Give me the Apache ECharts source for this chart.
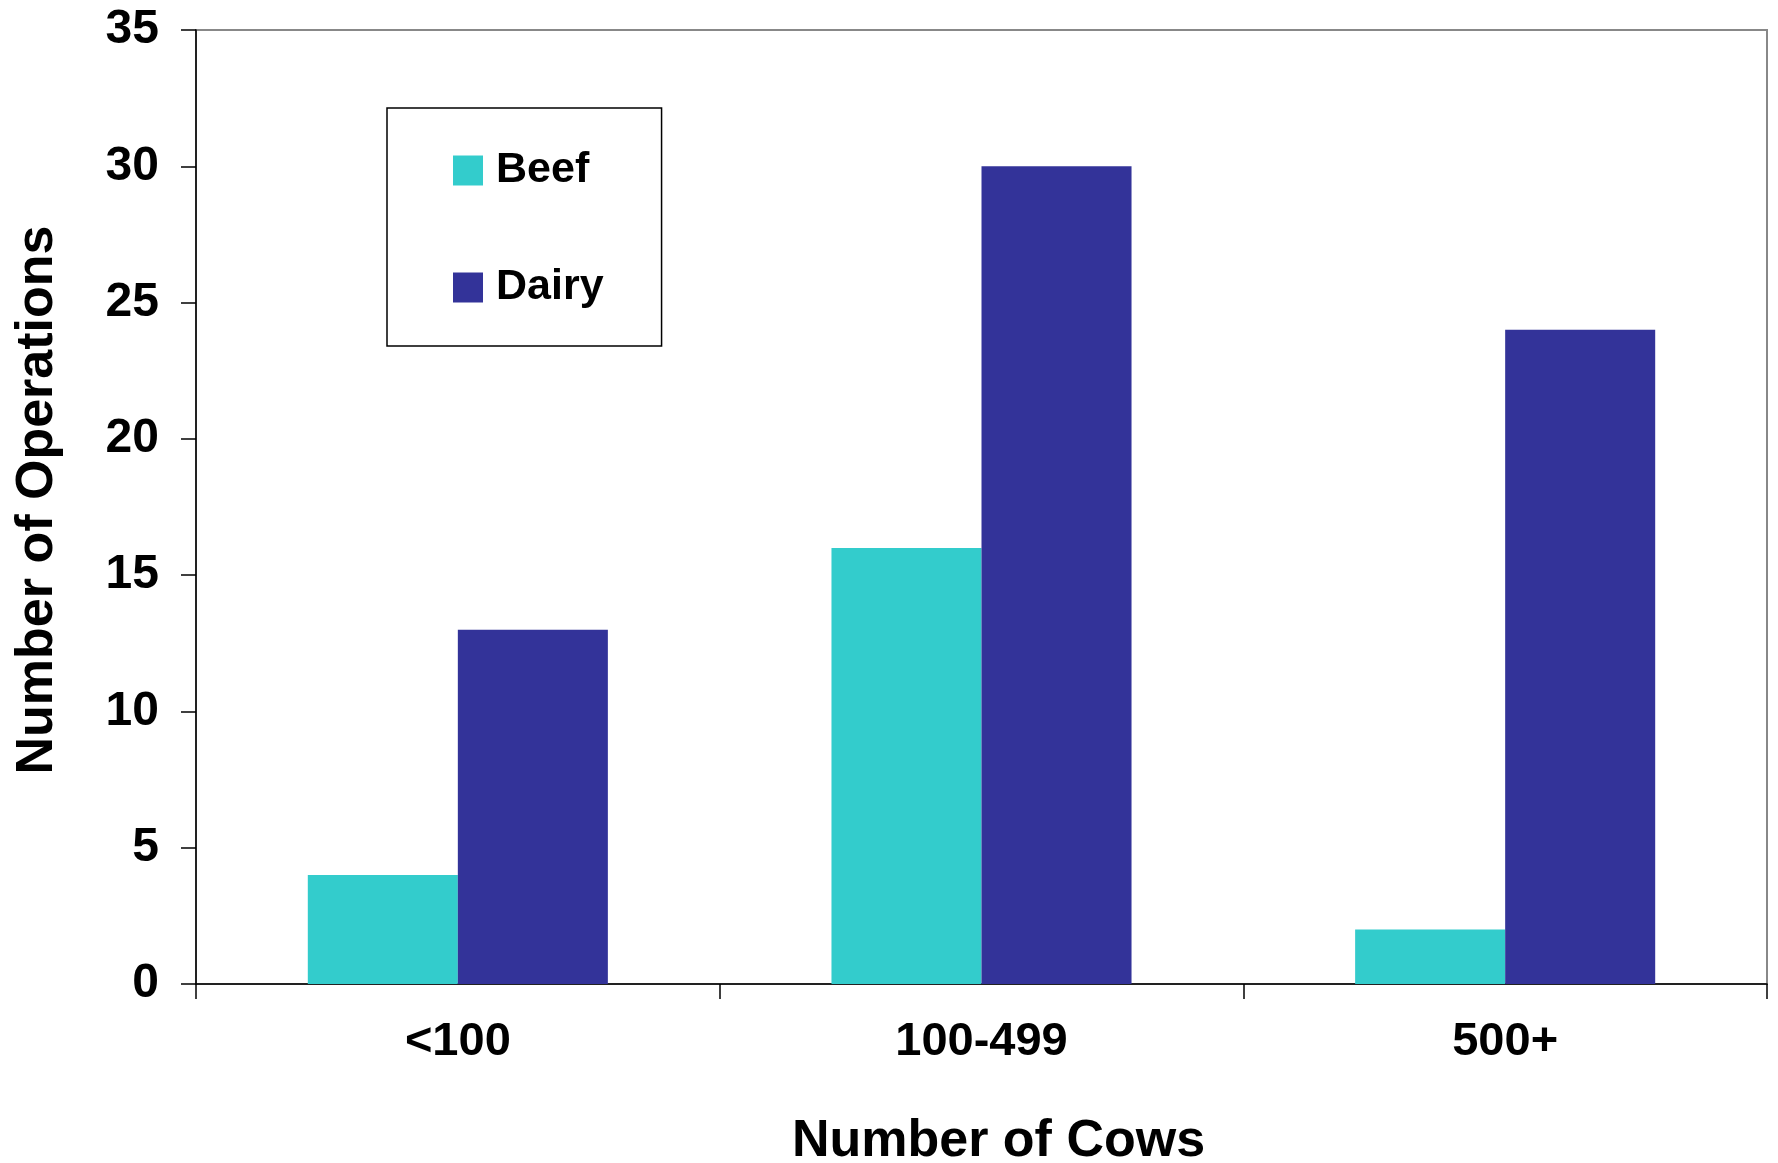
<!DOCTYPE html>
<html>
<head>
<meta charset="utf-8">
<script src="https://cdn.jsdelivr.net/npm/echarts@6/dist/echarts.min.js"></script>
<style>
  html, body { margin: 0; padding: 0; background: #fff; }
  #chart { width: 1778px; height: 1163px; }
</style>
</head>
<body>
<div id="chart"></div>
<script>
// Herd size classes and operation counts per herd type
const herdSizes = ['<100', '100-499', '500+'];
const beefOperations = [4, 16, 2];
const dairyOperations = [13, 30, 24];
const yTicks = { min: 0, max: 35, interval: 5 };

const FONT = '"Liberation Sans", Arial, Helvetica, sans-serif';

const chart = echarts.init(document.getElementById('chart'), null, { renderer: 'canvas' });

chart.setOption({
  animation: false,
  backgroundColor: '#ffffff',
  grid: {
    left: 196,
    right: 11,
    top: 30,
    bottom: 179,
    outerBoundsMode: 'none',
    containLabel: false,
    show: true,
    borderColor: '#888888',
    borderWidth: 2,
    backgroundColor: 'transparent'
  },
  legend: {
    left: 387,
    top: 108,
    orient: 'vertical',
    itemWidth: 30,
    itemHeight: 30,
    itemGap: 74,
    padding: [41, 58, 37, 66],
    borderColor: '#000000',
    borderWidth: 1.5,
    backgroundColor: '#ffffff',
    icon: 'rect',
    textStyle: {
      fontFamily: FONT,
      fontWeight: 'bold',
      fontSize: 43,
      color: '#000000',
      padding: [0, 0, 0, 8]
    },
    data: ['Beef', 'Dairy']
  },
  xAxis: {
    type: 'category',
    data: herdSizes,
    name: 'Number of Cows',
    nameLocation: 'middle',
    nameGap: 132,
    nameTextStyle: {
      fontFamily: FONT,
      fontWeight: 'bold',
      fontSize: 52,
      color: '#000000',
      padding: [0, 0, 0, 34]
    },
    axisLine: { show: true, lineStyle: { color: '#000000', width: 1.5 } },
    axisTick: { show: true, length: 15, inside: false, lineStyle: { color: '#000000', width: 1.5 } },
    axisLabel: {
      margin: 35,
      fontFamily: FONT,
      fontWeight: 'bold',
      fontSize: 47,
      color: '#000000'
    },
    splitLine: { show: false }
  },
  yAxis: {
    type: 'value',
    min: yTicks.min,
    max: yTicks.max,
    interval: yTicks.interval,
    name: 'Number of Operations',
    nameLocation: 'middle',
    nameGap: 132,
    nameTextStyle: {
      fontFamily: FONT,
      fontWeight: 'bold',
      fontSize: 52,
      color: '#000000',
      padding: [0, 0, 0, 14]
    },
    axisLine: { show: true, lineStyle: { color: '#000000', width: 1.5 } },
    axisTick: { show: true, length: 15, inside: false, lineStyle: { color: '#000000', width: 1.5 } },
    axisLabel: {
      margin: 37,
      fontFamily: FONT,
      fontWeight: 'bold',
      fontSize: 48,
      color: '#000000'
    },
    splitLine: { show: false }
  },
  series: [
    {
      name: 'Beef',
      type: 'bar',
      data: beefOperations,
      barGap: '0%',
      barCategoryGap: '42.7%',
      itemStyle: { color: '#33CCCC' }
    },
    {
      name: 'Dairy',
      type: 'bar',
      data: dairyOperations,
      barGap: '0%',
      barCategoryGap: '42.7%',
      itemStyle: { color: '#333399' }
    }
  ]
});
</script>
</body>
</html>
